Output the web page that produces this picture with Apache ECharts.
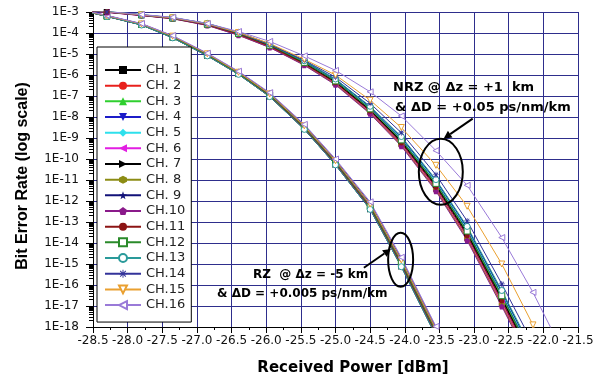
<!DOCTYPE html>
<html>
<head>
<meta charset="utf-8">
<script src="https://cdn.jsdelivr.net/npm/echarts@6/dist/echarts.min.js"></script>
<style>
  html, body { margin: 0; padding: 0; background: #fff; }
  #chart { width: 602px; height: 381px; }
</style>
</head>
<body>
<div id="chart"></div>
<script>
// ---- data -------------------------------------------------------------
const channels = ['CH. 1', 'CH. 2', 'CH. 3', 'CH. 4', 'CH. 5', 'CH. 6', 'CH. 7', 'CH. 8',
                  'CH. 9', 'CH.10', 'CH.11', 'CH.12', 'CH.13', 'CH.14', 'CH.15', 'CH.16'];

// received power sample points [dBm]
const power = [-28.75, -28.30, -27.80, -27.35, -26.85, -26.40, -25.95, -25.45,
               -25.00, -24.50, -24.05, -23.55, -23.10, -22.60, -22.15, -21.70];

// log10(BER), RZ format (dz = -5 km, dD = +0.005 ps/nm/km)
const rz01 = [-2.85, -3.20, -3.60, -4.20, -5.05, -5.93, -6.98, -8.52, -10.20, -12.30, -15.00, -18.30, -21.3];
const rz02 = [-2.85, -3.19, -3.59, -4.18, -5.03, -5.91, -6.95, -8.49, -10.16, -12.25, -14.94, -18.23, -21.2];
const rz03 = [-2.86, -3.21, -3.61, -4.22, -5.07, -5.95, -7.01, -8.55, -10.24, -12.35, -15.06, -18.37, -21.4];
const rz04 = [-2.84, -3.19, -3.58, -4.17, -5.01, -5.89, -6.93, -8.45, -10.12, -12.20, -14.87, -18.17, -21.2];
const rz05 = [-2.85, -3.20, -3.61, -4.20, -5.06, -5.93, -6.99, -8.53, -10.21, -12.32, -15.03, -18.33, -21.3];
const rz06 = [-2.84, -3.18, -3.58, -4.18, -5.02, -5.89, -6.94, -8.46, -10.13, -12.21, -14.88, -18.16, -21.2];
const rz07 = [-2.86, -3.21, -3.62, -4.23, -5.09, -5.97, -7.03, -8.59, -10.28, -12.40, -15.13, -18.43, -21.4];
const rz08 = [-2.85, -3.19, -3.60, -4.19, -5.03, -5.91, -6.96, -8.49, -10.17, -12.26, -14.95, -18.24, -21.3];
const rz09 = [-2.84, -3.18, -3.57, -4.15, -4.99, -5.87, -6.90, -8.42, -10.08, -12.15, -14.81, -18.10, -21.1];
const rz10 = [-2.86, -3.21, -3.61, -4.21, -5.07, -5.95, -7.00, -8.55, -10.24, -12.35, -15.06, -18.37, -21.4];
const rz11 = [-2.85, -3.20, -3.60, -4.20, -5.05, -5.94, -6.98, -8.53, -10.20, -12.31, -15.01, -18.30, -21.3];
const rz12 = [-2.85, -3.20, -3.59, -4.18, -5.03, -5.91, -6.95, -8.49, -10.16, -12.25, -14.94, -18.23, -21.2];
const rz13 = [-2.86, -3.21, -3.62, -4.23, -5.09, -5.97, -7.03, -8.59, -10.28, -12.40, -15.13, -18.43, -21.4];
const rz14 = [-2.83, -3.17, -3.56, -4.14, -4.98, -5.84, -6.87, -8.38, -10.04, -12.10, -14.75, -18.04, -21.0];
const rz15 = [-2.84, -3.18, -3.57, -4.15, -4.99, -5.87, -6.90, -8.42, -10.08, -12.15, -14.81, -18.10, -21.1];
const rz16 = [-2.83, -3.16, -3.55, -4.12, -4.96, -5.82, -6.84, -8.35, -10.00, -12.04, -14.68, -17.97, -20.9];

// log10(BER), NRZ format (dz = +1 km, dD = +0.05 ps/nm/km)
const nrz01 = [-2.87, -3.00, -3.15, -3.30, -3.60, -4.05, -4.62, -5.45, -6.35, -7.70, -9.20, -11.30, -13.60, -16.70, -19.60];
const nrz02 = [-2.88, -3.01, -3.16, -3.31, -3.62, -4.08, -4.66, -5.50, -6.42, -7.79, -9.31, -11.44, -13.77, -16.89, -19.80];
const nrz03 = [-2.87, -2.99, -3.14, -3.29, -3.58, -4.03, -4.59, -5.41, -6.30, -7.64, -9.12, -11.21, -13.49, -16.57, -19.47];
const nrz04 = [-2.86, -2.99, -3.14, -3.28, -3.57, -4.00, -4.56, -5.38, -6.26, -7.58, -9.05, -11.12, -13.38, -16.45, -19.34];
const nrz05 = [-2.86, -2.98, -3.13, -3.28, -3.56, -3.99, -4.55, -5.36, -6.23, -7.55, -9.01, -11.07, -13.32, -16.38, -19.27];
const nrz06 = [-2.88, -3.01, -3.16, -3.31, -3.62, -4.07, -4.65, -5.49, -6.40, -7.76, -9.28, -11.39, -13.71, -16.83, -19.73];
const nrz07 = [-2.87, -3.00, -3.15, -3.30, -3.59, -4.04, -4.61, -5.43, -6.33, -7.67, -9.16, -11.25, -13.54, -16.64, -19.53];
const nrz08 = [-2.88, -3.01, -3.16, -3.32, -3.63, -4.10, -4.68, -5.52, -6.44, -7.82, -9.35, -11.48, -13.82, -16.95, -19.86];
const nrz09 = [-2.86, -2.98, -3.13, -3.27, -3.55, -3.98, -4.53, -5.34, -6.21, -7.52, -8.97, -11.02, -13.26, -16.32, -19.21];
const nrz10 = [-2.88, -3.02, -3.17, -3.32, -3.64, -4.11, -4.69, -5.54, -6.47, -7.85, -9.39, -11.53, -13.88, -17.02, -19.93];
const nrz11 = [-2.87, -3.00, -3.15, -3.30, -3.61, -4.06, -4.63, -5.47, -6.37, -7.73, -9.24, -11.35, -13.66, -16.76, -19.67];
const nrz12 = [-2.87, -2.99, -3.14, -3.29, -3.58, -4.02, -4.58, -5.40, -6.28, -7.61, -9.09, -11.16, -13.43, -16.51, -19.40];
const nrz13 = [-2.86, -2.98, -3.13, -3.27, -3.54, -3.97, -4.52, -5.32, -6.19, -7.49, -8.93, -10.98, -13.21, -16.26, -19.14];
const nrz14 = [-2.87, -3.00, -3.15, -3.29, -3.58, -4.00, -4.55, -5.30, -6.10, -7.35, -8.75, -10.75, -12.95, -15.95, -18.80, -21.70];
const nrz15 = [-2.86, -2.99, -3.14, -3.28, -3.57, -3.98, -4.50, -5.25, -6.00, -7.20, -8.50, -10.30, -12.25, -15.00, -17.90, -20.80];
const nrz16 = [-2.86, -2.98, -3.12, -3.25, -3.55, -3.93, -4.40, -5.09, -5.78, -6.80, -7.95, -9.60, -11.25, -13.74, -16.35, -19.30];

const rzCurves  = [rz01, rz02, rz03, rz04, rz05, rz06, rz07, rz08, rz09, rz10, rz11, rz12, rz13, rz14, rz15, rz16];
const nrzCurves = [nrz01, nrz02, nrz03, nrz04, nrz05, nrz06, nrz07, nrz08, nrz09, nrz10, nrz11, nrz12, nrz13, nrz14, nrz15, nrz16];

// axis ticks
const powerTicks = { min: -28.5, max: -21.5, step: 0.5 };
const berDecades = { min: -18, max: -3, step: 1 };

// ---- styling ----------------------------------------------------------
const GRID_COLOR = '#2e2e8c';
const SYM = {
  square: 'rect',
  circle: 'circle',
  up: 'triangle',
  diamond: 'diamond',
  down: 'path://M-10,-9 L10,-9 L0,9 Z',
  left: 'path://M-9,0 L9,-10 L9,10 Z',
  right: 'path://M9,0 L-9,-10 L-9,10 Z',
  hexagon: 'path://M0,-10 L8.66,-5 L8.66,5 L0,10 L-8.66,5 L-8.66,-5 Z',
  star: 'path://M0,-10 L2.35,-3.24 L9.51,-3.09 L3.8,1.24 L5.88,8.09 L0,4 L-5.88,8.09 L-3.8,1.24 L-9.51,-3.09 L-2.35,-3.24 Z',
  pentagon: 'path://M0,-10 L9.51,-3.09 L5.88,8.09 L-5.88,8.09 L-9.51,-3.09 Z',
  asterisk: 'path://M-10,-1.2 L10,-1.2 L10,1.2 L-10,1.2 Z M-1.2,-10 L1.2,-10 L1.2,10 L-1.2,10 Z ' +
            'M-7.92,-6.22 L-6.22,-7.92 L7.92,6.22 L6.22,7.92 Z M-6.22,7.92 L-7.92,6.22 L6.22,-7.92 L7.92,-6.22 Z'
};
const chStyle = [
  { color: '#000000', symbol: SYM.square },
  { color: '#e8201c', symbol: SYM.circle },
  { color: '#2fcf2f', symbol: SYM.up },
  { color: '#1c1cc8', symbol: SYM.down },
  { color: '#2ee0ec', symbol: SYM.diamond },
  { color: '#e21ee2', symbol: SYM.left },
  { color: '#000000', symbol: SYM.right },
  { color: '#8c8c14', symbol: SYM.hexagon },
  { color: '#121278', symbol: SYM.star },
  { color: '#8a1a8a', symbol: SYM.pentagon },
  { color: '#8c1414', symbol: SYM.circle, size: 5 },
  { color: '#2a8a2a', symbol: SYM.square, open: true },
  { color: '#2a9a9a', symbol: SYM.circle, open: true },
  { color: '#33339a', symbol: SYM.asterisk },
  { color: '#eaa030', symbol: SYM.down, open: true },
  { color: '#9a7ad8', symbol: SYM.left, open: true }
];

function curveSeries(name, values, st) {
  return {
    type: 'line',
    name: name,
    data: values.map((v, i) => [power[i], v]),
    symbol: st.symbol,
    symbolSize: st.size || 6,
    clip: true,
    lineStyle: { color: st.color, width: 1 },
    itemStyle: st.open
      ? { color: '#ffffff', borderColor: st.color, borderWidth: 1 }
      : { color: st.color },
    emphasis: { disabled: true },
    animation: false
  };
}

const series = [];
channels.forEach((name, k) => series.push(curveSeries(name, rzCurves[k], chStyle[k])));
channels.forEach((name, k) => series.push(curveSeries(name, nrzCurves[k], chStyle[k])));

// log-spaced minor ticks inside each decade
const minorTicks = [];
for (let d = berDecades.min; d < berDecades.max; d++) {
  for (let m = 2; m <= 9; m++) minorTicks.push(d + Math.log10(m));
}

const tickFont = { fontFamily: 'DejaVu Sans', fontSize: 12, color: '#111' };

const chart = echarts.init(document.getElementById('chart'), null, { renderer: 'canvas' });
chart.setOption({
  backgroundColor: '#ffffff',
  animation: false,
  grid: { left: 93, right: 24, top: 12, bottom: 54, containLabel: false },
  legend: {
    data: channels,
    orient: 'vertical',
    left: 97, top: 47,
    padding: [16, 6, 10, 7],
    itemWidth: 36, itemHeight: 10, itemGap: 1.67,
    backgroundColor: '#ffffff',
    borderColor: '#000000', borderWidth: 1,
    selectedMode: false,
    textStyle: { fontFamily: 'DejaVu Sans', fontSize: 13, color: '#222', lineHeight: 14 }
  },
  xAxis: {
    type: 'value',
    min: powerTicks.min, max: powerTicks.max, interval: powerTicks.step,
    axisLine: { lineStyle: { color: '#000', width: 1 } },
    axisTick: { length: 6, lineStyle: { color: '#000' } },
    minorTick: { show: true, splitNumber: 2, length: 3, lineStyle: { color: '#000' } },
    splitLine: { show: true, lineStyle: { color: GRID_COLOR, width: 1 } },
    axisLabel: Object.assign({ formatter: v => v.toFixed(1), margin: 8, interval: 0,
                               showMinLabel: true, showMaxLabel: true }, tickFont)
  },
  yAxis: [
    {
      type: 'value',
      min: berDecades.min, max: berDecades.max, interval: berDecades.step,
      position: 'left',
      axisLine: { lineStyle: { color: '#000', width: 1 } },
      axisTick: { length: 7, lineStyle: { color: '#000' } },
      splitLine: { show: true, lineStyle: { color: GRID_COLOR, width: 1 } },
      axisLabel: Object.assign({ formatter: v => '1E' + v, margin: 14,
                                 showMinLabel: true, showMaxLabel: true }, tickFont)
    },
    {
      type: 'value',
      min: berDecades.min, max: berDecades.max,
      position: 'left',
      axisLine: { show: false },
      axisLabel: { show: false },
      splitLine: { show: false },
      axisTick: { show: true, length: 4, customValues: minorTicks, lineStyle: { color: '#000' } }
    }
  ],
  series: series
});

// ---- titles and annotations ------------------------------------------
const px = (p, e) => chart.convertToPixel({ xAxisIndex: 0, yAxisIndex: 0 }, [p, e]);

const notes = [
  { text: 'NRZ @ \u0394z = +1  km',          at: [-24.17, -6.60],  size: 13 },
  { text: '& \u0394D = +0.05 ps/nm/km',       at: [-24.14, -7.55],  size: 13 },
  { text: 'RZ  @ \u0394z = -5 km',            at: [-26.19, -15.52], size: 12 },
  { text: '& \u0394D = +0.005 ps/nm/km',      at: [-26.71, -16.42], size: 12 }
];
const rings = [
  { at: [-23.48, -10.61], rx: 22, ry: 33 },
  { at: [-24.06, -14.80], rx: 12.5, ry: 27 }
];
const pointers = [
  { from: [-23.02, -8.08], to: [-23.44, -9.03] },
  { from: [-24.59, -15.18], to: [-24.20, -14.28] }
];

const g = [];
notes.forEach(n => {
  const [x, y] = px(n.at[0], n.at[1]);
  g.push({ type: 'text', x: x, y: y, z: 100,
           style: { text: n.text, fill: '#000', fontFamily: 'DejaVu Sans', fontWeight: 'bold',
                    fontSize: n.size, align: 'left', verticalAlign: 'middle' } });
});
rings.forEach(r => {
  const [cx, cy] = px(r.at[0], r.at[1]);
  g.push({ type: 'ellipse', z: 100, shape: { cx: cx, cy: cy, rx: r.rx, ry: r.ry },
           style: { fill: 'rgba(0,0,0,0)', stroke: '#000', lineWidth: 2 } });
});
pointers.forEach(a => {
  const [x1, y1] = px(a.from[0], a.from[1]);
  const [x2, y2] = px(a.to[0], a.to[1]);
  const len = Math.hypot(x2 - x1, y2 - y1);
  const ux = (x2 - x1) / len, uy = (y2 - y1) / len;
  const hl = 8, hw = 4;
  const bx = x2 - ux * hl, by = y2 - uy * hl;
  g.push({ type: 'line', z: 100, shape: { x1: x1, y1: y1, x2: bx, y2: by },
           style: { stroke: '#000', lineWidth: 2 } });
  g.push({ type: 'polygon', z: 100,
           shape: { points: [[x2, y2], [bx - uy * hw, by + ux * hw], [bx + uy * hw, by - ux * hw]] },
           style: { fill: '#000' } });
});
g.push({ type: 'text', x: 353, y: 368, z: 100,
         style: { text: 'Received Power [dBm]', fill: '#000', fontFamily: 'DejaVu Sans',
                  fontWeight: 'bold', fontSize: 15, align: 'center', verticalAlign: 'middle' } });
g.push({ type: 'text', x: 23, y: 176, rotation: Math.PI / 2, z: 100,
         style: { text: 'Bit Error Rate (log scale)', fill: '#000', fontFamily: 'Liberation Sans',
                  fontWeight: 'bold', fontSize: 16, align: 'center', verticalAlign: 'middle' } });

chart.setOption({ graphic: { elements: g } });
</script>
</body>
</html>
